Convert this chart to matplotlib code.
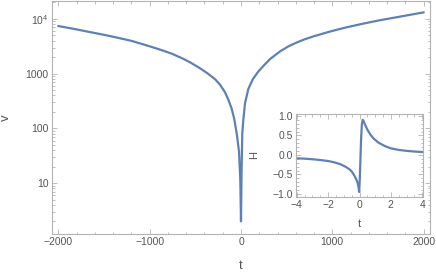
import matplotlib
matplotlib.use("Agg")
import matplotlib.pyplot as plt
from matplotlib.ticker import FixedLocator, LogLocator, MultipleLocator, FuncFormatter, NullFormatter

plt.rcParams['font.family'] = ['Liberation Sans', 'DejaVu Sans']
plt.rcParams['mathtext.fontset'] = 'custom'
plt.rcParams['mathtext.rm'] = 'Liberation Sans'
plt.rcParams['mathtext.default'] = 'regular'

# main curve v(t)
t_main = [-2000, -1850, -1700, -1500, -1360, -1200, -1000, -850, -750, -630, -550, -450,
          -370, -285, -230, -175, -140, -102, -75, -47, -22, -8, 0,
          6, 14, 25, 44, 80, 130, 190, 250, 320, 430, 520, 610, 700, 800, 975, 1150,
          1340, 1500, 1700, 1850, 2000]
v_main = [7413, 6683, 5957, 5129, 4571, 3981, 3162, 2630, 2291, 1862, 1585, 1259,
          1023, 794, 631, 457, 339, 229, 151, 81, 38, 12, 2,
          15, 81, 141, 288, 525, 794, 1096, 1413, 1862, 2570, 3162, 3715, 4266, 4842, 5888, 6998,
          8222, 9333, 10715, 11885, 13183]

# inset H(t)
t_ins = [-4, -3.5, -3, -2.5, -2, -1.6, -1.2, -0.9, -0.6, -0.45, -0.3, -0.2, -0.12, -0.06,
         -0.02, 0.02, 0.06, 0.1, 0.15, 0.2, 0.25, 0.35, 0.5, 0.7, 0.9, 1.2, 1.6, 2.0,
         2.5, 3.0, 3.5, 4.0]
h_ins = [-0.085, -0.095, -0.11, -0.13, -0.155, -0.19, -0.24, -0.3, -0.38, -0.45, -0.55,
         -0.63, -0.72, -0.83, -0.95, -0.6, -0.1, 0.4, 0.78, 0.9, 0.88, 0.78, 0.65, 0.52,
         0.42, 0.32, 0.23, 0.17, 0.13, 0.105, 0.088, 0.075]

line_col = '#5e81b5'
frame_col = '#b3b3b3'
text_col = '#555555'


def style(ax, size):
    for s in ax.spines.values():
        s.set_color(frame_col)
        s.set_linewidth(0.8)
    ax.tick_params(which='both', direction='in', top=True, right=True,
                   color=frame_col, labelcolor=text_col, labelsize=size, width=0.6)
    ax.tick_params(which='major', length=3.5, pad=2.5)
    ax.tick_params(which='minor', length=1.8)


fig = plt.figure(figsize=(4.36, 2.76), dpi=100)
ax = fig.add_axes([52/436, 1 - 233.7/276, 378/436, 232.7/276])
ax.plot(t_main, v_main, color=line_col, lw=1.6)
ax.set_yscale('log')
ax.set_xlim(-2071, 2071)
ax.set_ylim(1.19, 21300)
ax.xaxis.set_major_locator(FixedLocator([-2000, -1000, 0, 1000, 2000]))
ax.xaxis.set_minor_locator(MultipleLocator(200))
ax.xaxis.set_major_formatter(FuncFormatter(lambda x, p: f'{x:.0f}'.replace('-', '\u2212')))
ax.yaxis.set_major_locator(FixedLocator([10, 100, 1000, 10000]))
ax.yaxis.set_minor_locator(LogLocator(base=10, subs=range(2, 10)))
ax.yaxis.set_minor_formatter(NullFormatter())
ylabs = {10: '10', 100: '100', 1000: '1000', 10000: r'$10^4$'}
ax.yaxis.set_major_formatter(FuncFormatter(lambda y, p: ylabs.get(int(round(y)), '')))
style(ax, 7.5)
ax.set_xlabel('t', color=text_col, fontsize=9.5)
ax.set_ylabel('v', color=text_col, fontsize=9.5)
ax.xaxis.set_label_coords(0.5, -0.115)
ax.yaxis.set_label_coords(-0.105, 0.5)

# inset
ins = fig.add_axes([296/436, 1 - 196.7/276, 127/436, 82.7/276])
ins.plot(t_ins, h_ins, color=line_col, lw=1.6)
ins.set_xlim(-4.05, 4.05)
ins.set_ylim(-1.07, 1.05)
ins.xaxis.set_major_locator(FixedLocator([-4, -2, 0, 2, 4]))
ins.xaxis.set_minor_locator(MultipleLocator(0.5))
ins.yaxis.set_major_locator(FixedLocator([-1.0, -0.5, 0.0, 0.5, 1.0]))
ins.yaxis.set_minor_locator(MultipleLocator(0.1))
ins.xaxis.set_major_formatter(FuncFormatter(lambda x, p: f'{x:.0f}'.replace('-', '\u2212')))
ins.yaxis.set_major_formatter(FuncFormatter(lambda y, p: f'{y:.1f}'.replace('-', '\u2212')))
style(ins, 7.5)
ins.set_xlabel('t', color=text_col, fontsize=8)
ins.set_ylabel('H', color=text_col, fontsize=8)
ins.xaxis.set_label_coords(0.5, -0.27)
ins.yaxis.set_label_coords(-0.29, 0.5)

fig.savefig('out.png', dpi=100)
